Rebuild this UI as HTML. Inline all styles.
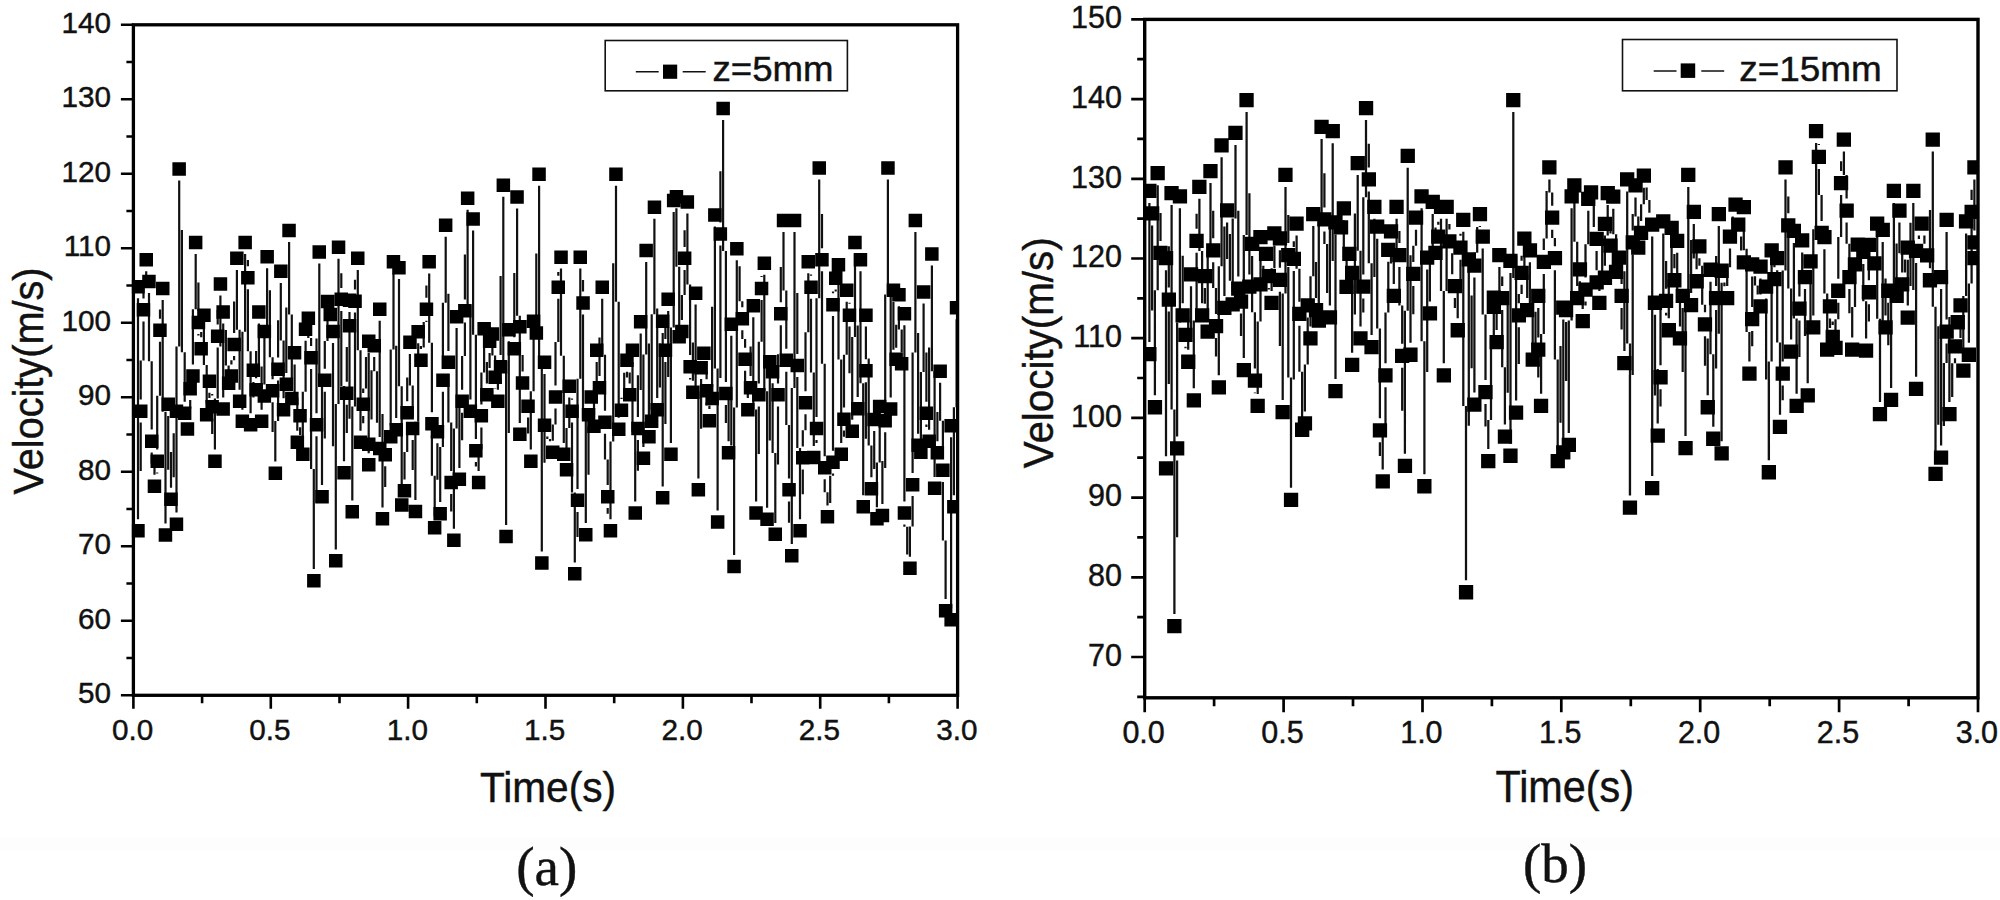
<!DOCTYPE html>
<html><head><meta charset="utf-8"><title>Velocity vs time</title>
<style>html,body{margin:0;padding:0;background:#fff}svg{display:block}text{stroke:#111;stroke-width:0.45px}</style></head>
<body>
<svg width="2000" height="900" viewBox="0 0 2000 900" font-family='"Liberation Sans", Arial, Helvetica, sans-serif' fill="#111">
<rect width="2000" height="900" fill="#fff"/>
<rect x="0" y="837" width="2000" height="14" fill="#fdfdfd"/>
<g id="plot-a">
<path d="M138 298.3V519.3M138 470.9V519.3M140.7 422.6V470.9M140.7 360.5V399.6M143.5 321.4V360.5M143.5 284.9V298.4M146.2 271.3V284.9M149 293V361.3M151.7 361.3V429.6M151.7 452.6V463.6M154.5 463.6V474.6M154.5 473.6V474.7M157.2 472.5V473.6M157.2 395.7V449.6M160 341.8V395.7M160 309.4V318.8M162.7 300V309.4M162.7 300V411.8M165.5 411.8V523.5M165.5 469.7V523.5M168.2 415.9V469.7M168.2 415.9V451.9M171 451.9V487.8M171 477.2V487.8M173.7 433.2V477.2M176.5 422.6V433.2M176.5 422.6V512.6M176.5 346.6V512.6M179.2 180.6V346.6M179.2 180.6V230.1M181.9 230.1V352.2M184.7 352.2V401.7M187.4 408.8V417.5M190.2 400.1V408.8M192.9 309.2V364.5M195.7 253.9V309.2M195.7 253.9V282.4M198.4 282.4V311M198.4 333.9V335.6M201.2 335.6V337.3M201.2 331.9V337.2M203.9 326.6V331.9M203.9 326.6V365M206.7 365V403.4M206.7 398.1V403.4M209.4 392.8V398.1M209.4 392.7V394.1M212.2 394.1V395.5M212.2 418.4V434M214.9 434V449.6M214.9 398.6V449.6M217.7 347.6V398.6M217.7 310.1V324.6M220.4 295.5V310.1M220.4 295.5V346.5M223.2 346.5V397.5M223.2 323.5V397.5M223.2 323.5V329.9M225.9 329.9V365.5M228.6 365.5V371.9M231.4 360.2V364.5M234.1 356V360.2M234.1 301.4V333M236.9 269.9V301.4M236.9 269.9V329.8M239.6 329.8V389.7M242.4 331.8V409.7M245.1 253.9V331.8M245.1 253.9V260.1M247.9 260.1V266.2M247.9 289.2V351.2M250.6 351.2V413.3M250.6 397.6V413.3M253.4 381.9V397.6M256.1 350.9V378.2M258.9 323.5V350.9M258.9 323.5V366.6M261.6 366.6V409.7M261.6 376.4V409.7M264.4 343V376.4M264.4 343V384.5M264.4 326.4V384.5M267.1 268.2V326.4M267.1 268.2V290.2M269.9 290.2V357.2M272.6 357.2V379.2M272.6 402.2V431.9M275.3 431.9V461.6M275.3 421.1V461.6M278.1 380.6V421.1M278.1 320.2V357.6M280.8 282.9V320.2M280.8 282.9V340.5M283.6 340.5V398.1M283.6 397V398.2M286.3 395.8V397M286.3 307.4V372.9M289.1 241.9V307.4M289.1 241.9V314.4M291.8 314.4V387M291.8 375.7V387M294.6 364.4V375.7M294.6 364.4V397.5M297.3 397.5V430.7M297.3 429V430.8M300.1 427.3V429M300.1 427.4V435.1M302.8 435.1V442.9M302.8 391.8V442.9M305.6 340.7V391.8M308.3 329.8V338M311.1 338V346.1M311.1 369.1V469.1M313.8 469.1V569.1M313.8 502.7V569.1M316.5 436.3V502.7M316.5 338.4V413.3M319.3 263.4V338.4M319.3 263.4V374.2M322 374.2V485.1M322 438.4V485.1M324.8 391.7V438.4M324.8 340.9V368.7M327.5 313V340.9M333 343V446.2M335.8 446.2V549.4M335.8 404V549.4M338.5 258.7V404M338.5 258.7V273.3M341.3 273.3V287.9M341.3 310.9V386M344 386V461.2M344 433V461.2M346.8 404.8V433M346.8 346.9V381.8M349.5 311.9V346.9M349.5 311.9V314.1M349.5 337.1V418.8M352.3 418.8V500.4M352.3 406.5V500.4M355 312.6V406.5M355 279.8V289.6M357.8 269.9V279.8M357.8 269.9V350.3M360.5 350.3V430.7M360.5 423.3V430.7M363.2 415.9V423.3M363.2 388.6V392.9M366 357.1V388.6M368.7 352.9V357.1M368.7 352.9V453.2M368.7 419.6V432.8M371.5 370.3V419.6M374.2 357.1V370.3M374.2 357.1V371.3M377 371.3V422.8M379.7 422.8V437M379.7 320.8V437M379.7 320.8V414.1M382.5 414.1V507.4M382.5 486.9V507.4M385.2 466.3V486.9M390.7 349.4V425.4M393.5 273.4V349.4M393.5 273.4V345.8M396.2 345.8V418.1M396.2 348.6V418.1M399 279.1V348.6M399 279.1V386.3M401.7 386.3V493.5M404.5 451.9V479.4M407.2 424.3V451.9M407.2 377.6V401.3M409.9 353.9V377.6M409.9 353.9V385.4M412.7 385.4V417M412.7 440V470M415.4 470V500M415.4 421.7V500M418.2 343.4V421.7M418.2 343.3V346.1M420.9 346.1V348.9M420.9 347.6V348.9M423.7 322.1V347.6M426.4 320.7V322.1M426.4 285.6V297.8M429.2 273.4V285.6M429.2 273.4V342.8M431.9 342.8V412.2M431.9 435.2V475.7M434.7 475.7V516.2M434.7 479.7V516.2M437.4 443.2V479.7M437.4 443.2V472.6M440.2 472.6V502.1M440.2 446.9V502.1M442.9 391.7V446.9M442.9 302.7V368.7M445.7 236.7V302.7M445.7 236.7V293.8M448.4 293.8V350.9M448.4 373.9V422.4M451.2 422.4V471M451.2 494V511.4M453.9 511.4V528.8M453.9 428.4V528.8M456.6 328.1V428.4M456.6 328.1V398M459.4 398V467.9M459.4 440.3V467.9M462.1 412.7V440.3M462.1 356V389.7M464.9 322.4V356M464.9 254.6V299.4M467.6 209.8V254.6M467.6 209.8V304.7M470.4 304.7V399.6M470.4 315V399.6M473.1 230.4V315M473.1 230.4V334.8M475.9 334.8V439.1M475.9 462.1V466.6M478.6 466.6V471M478.6 449.2V471M481.4 427.4V449.2M481.4 372.4V404.4M484.1 340.3V372.4M484.1 340.3V361.9M486.9 361.9V383.4M486.9 368.1V383.4M489.6 352.9V368.1M492.4 345.5V355.6M495.1 355.6V365.6M495.1 388.5V389.1M497.9 389.1V389.8M497.9 383.9V389.7M500.6 378.1V383.9M500.6 276V355.1M503.3 196.8V276M503.3 196.8V360.9M506.1 360.9V525M506.1 433.1V525M508.8 341.3V433.1M514.3 272.9V337.2M517.1 208.6V272.9M517.1 208.6V315.8M519.8 315.8V422.9M519.8 338.2V422.9M519.8 338.2V354.9M522.6 354.9V371.5M528.1 417.6V433.6M530.8 433.6V449.6M530.8 391.2V449.6M533.6 332.9V391.2M536.3 253.6V321.5M539.1 185.7V253.6M539.1 185.7V368.6M541.8 368.6V551.5M541.8 462.7V551.5M544.5 373.9V462.7M544.5 373.9V413.9M547.3 436.4V438.9M550 438.9V441.3M552.8 424.6V440.8M555.5 408.5V424.6M555.5 342.1V385.5M558.3 298.7V342.1M558.3 272.1V275.7M561 268.6V272.1M561 268.6V355.8M563.8 355.8V442.9M566.5 428V458.4M569.3 397.6V428M569.3 397.5V398.6M572 398.6V399.7M572 422.6V492.5M574.8 492.5V562.4M574.8 537.1V562.4M577.5 511.9V537.1M577.5 378.8V488.9M580.3 268.6V378.8M580.3 268.6V280.1M583 280.1V291.5M583 314.5V418.8M585.8 418.8V523.1M585.8 474.8V523.1M588.5 426.4V474.8M591.2 408.5V411.7M594 411.7V414.9M594 388.4V414.9M596.7 361.9V388.4M596.7 361.9V369M599.5 369V376.1M599.5 337.4V376.1M602.2 298.7V337.4M602.2 298.7V354.7M605 354.7V410.7M605 433.7V459.4M607.7 459.4V485.1M607.7 508.1V513.7M610.5 513.7V519.3M610.5 441.6V519.3M613.2 263.3V441.6M616 185.7V263.3M616 185.7V301.7M618.7 301.7V417.7M621.5 397.8V398.9M624.2 372.8V397.8M627 371.7V372.8M627 371.8V377.6M629.7 377.6V383.4M629.7 372.6V383.4M632.5 361.9V372.6M632.5 361.9V431.7M635.2 431.7V501.5M635.2 470.8V501.5M637.9 440V470.8M637.9 375.2V417M640.7 333.4V375.2M640.7 333.4V390.1M643.4 390.1V446.9M643.4 354.4V446.9M646.2 261.9V354.4M646.2 261.9V343.6M648.9 343.6V425.4M651.7 314.2V409.7M654.4 218.8V314.2M654.4 218.8V308.5M657.2 308.5V398.1M657.2 387.6V398.1M659.9 343.4V387.6M662.7 332.9V343.4M662.7 332.9V486.4M662.7 424.1V486.4M665.4 361.9V424.1M665.4 324.9V338.9M668.2 310.9V324.9M668.2 310.9V376.9M670.9 376.9V442.9M670.9 327.4V442.9M673.7 211.9V327.4M676.4 208.3V266.8M679.2 266.8V325.3M681.9 294.9V320M684.6 269.9V294.9M684.6 230.2V246.9M687.4 213.6V230.2M687.4 213.6V284.4M690.1 284.4V355.1M690.1 378V379.4M692.9 379.4V380.8M692.9 342.6V380.7M695.6 304.6V342.6M695.6 304.6V391.5M698.4 391.5V478.4M698.4 428.8V478.4M701.1 379.1V428.8M703.9 364.9V372M706.6 372V379.2M706.6 402.2V405.6M709.4 405.6V409.1M712.1 306.8V387M714.9 226.6V306.8M714.9 226.6V368.5M717.6 368.5V510.5M717.6 378V510.5M720.4 245.5V378M720.4 171.3V222.5M723.1 120.1V171.3M723.1 120.1V251M725.9 251V382M725.9 405V423.1M728.6 423.1V441.2M728.6 388.4V441.2M731.3 335.7V388.4M731.3 335.7V445.4M734.1 445.4V555M734.1 407.6V555M736.8 260.2V407.6M736.8 260.2V266.2M739.6 266.2V301.2M742.3 301.2V307.2M742.3 330.2V338.9M745.1 338.9V347.7M745.1 370.7V384.4M747.8 384.4V398.1M750.6 346.6V376.1M753.3 317.2V346.6M753.3 317.2V409.4M756.1 409.4V501.5M756.1 453.9V501.5M758.8 406.4V453.9M758.8 341.7V383.4M761.6 300V341.7M761.6 275.9V277.1M764.3 274.8V275.9M764.3 274.9V391.3M767.1 391.3V507.8M767.1 440.5V507.8M769.8 373.3V440.5M772.6 383.3V453.1M775.3 453.1V522.9M775.3 464.6V522.9M778 406.4V464.6M778 354.3V383.4M780.8 325.2V354.3M780.8 267.1V302.2M783.5 231.9V267.1M783.5 231.9V290.4M786.3 290.4V348.8M786.3 371.8V425.1M789 425.1V478.4M789 501.4V522.8M791.8 522.8V544.1M791.8 388V544.1M794.5 231.9V388M794.5 231.9V292.9M797.3 292.9V354M797.3 377V448.1M800 448.1V519.3M800 494.3V519.3M802.8 469.4V494.3M802.8 430.3V446.4M805.5 414.2V430.3M805.5 332.3V391.2M808.3 273.4V332.3M808.3 273.3V274.5M811 274.5V275.8M811 298.7V372.4M813.8 372.4V446M813.8 443V446.1M816.5 439.9V443M816.5 298.2V417M819.2 179.4V298.2M819.2 179.4V213.9M822 213.9V248.3M822 271.3V363.8M824.7 363.8V456.3M824.7 479.3V492.3M827.5 492.3V505.3M827.5 503.1V505.4M830.2 475.8V503.1M833 473.6V475.8M833 316.1V450.7M833 291.4V293.2M835.7 289.5V291.4M838.5 276.2V359.5M841.2 359.5V442.9M841.2 436.8V442.9M844 430.6V436.8M844 354.8V407.6M846.7 301.9V354.8M846.7 301.8V302.8M849.5 302.8V303.7M849.5 326.6V373.2M852.2 373.2V419.8M852.2 336.9V419.8M855 253.9V336.9M855 253.9V325.5M857.7 325.5V397.1M857.7 334.2V397.1M860.5 271.3V334.2M860.5 271.3V383.2M863.2 383.2V495.2M863.2 438.8V495.2M865.9 382.3V438.8M865.9 326.6V359.3M865.9 326.6V358.5M868.7 358.5V445.4M871.4 445.4V477.3M871.4 454.1V477.3M874.2 431V454.1M874.2 431V469.1M876.9 469.1V507.2M876.9 462.6V507.2M879.7 418V462.6M879.7 418V461M882.4 461V504M882.4 468.1V504M885.2 432.3V468.1M885.2 294.4V409.3M887.9 179.4V294.4M887.9 179.4V288.4M890.7 288.4V397.5M890.7 349.7V397.5M893.4 301.9V349.7M893.4 301.9V324.8M896.2 324.8V347.7M896.2 327V347.7M898.9 306.3V327M898.9 306.3V329.4M901.7 329.4V352.4M901.7 338.8V352.4M904.4 325.2V338.8M904.4 325.2V501.5M904.4 524.4V526.8M907.2 526.8V554.4M909.9 554.4V556.8M909.9 526.4V556.7M912.6 496.1V526.4M912.6 352.5V473.1M915.4 231.9V352.5M915.4 231.9V332.9M918.1 332.9V433.8M920.9 372.1V440.8M923.6 303.5V372.1M923.6 303.5V352.6M926.4 352.6V401.7M926.4 424.6V427.1M929.1 427.1V429.7M929.1 347.6V429.6M931.9 265.5V347.6M931.9 265.5V371.2M934.6 371.2V476.9M934.6 470.5V476.9M937.4 464.2V470.5M937.4 411.9V441.2M940.1 382.7V411.9M940.1 382.7V420.8M942.9 420.8V458.9M942.9 481.9V540.5M945.6 540.5V599.1M951.1 437.3V608.2M951.1 437.3V466.2M953.9 466.2V495.2M953.9 407.2V495.2M956.6 319.3V407.2" fill="none" stroke="#111" stroke-width="2.2"/>
<path d="M131.9 280.1h12.8v13.5h-12.8zM131.9 524h12.8v13.5h-12.8zM134 404.4h13.5v13.5h-13.5zM136.7 303.1h13.5v13.5h-13.5zM139.5 253.1h13.5v13.5h-13.5zM142.2 274.8h13.5v13.5h-13.5zM145 434.4h13.5v13.5h-13.5zM147.7 479.4h13.5v13.5h-13.5zM150.5 454.4h13.5v13.5h-13.5zM153.2 323.6h13.5v13.5h-13.5zM156 281.8h13.5v13.5h-13.5zM158.7 528.2h13.5v13.5h-13.5zM161.5 397.6h13.5v13.5h-13.5zM164.2 492.6h13.5v13.5h-13.5zM169.7 404.4h13.5v13.5h-13.5zM169.7 517.4h13.5v13.5h-13.5zM172.4 162.3h13.5v13.5h-13.5zM177.9 406.4h13.5v13.5h-13.5zM180.7 422.2h13.5v13.5h-13.5zM183.4 381.9h13.5v13.5h-13.5zM186.2 369.2h13.5v13.5h-13.5zM188.9 235.7h13.5v13.5h-13.5zM191.7 315.8h13.5v13.5h-13.5zM194.4 341.9h13.5v13.5h-13.5zM197.2 308.4h13.5v13.5h-13.5zM199.9 408.1h13.5v13.5h-13.5zM202.7 374.6h13.5v13.5h-13.5zM205.4 400.1h13.5v13.5h-13.5zM208.2 454.4h13.5v13.5h-13.5zM210.9 329.4h13.5v13.5h-13.5zM213.7 277.2h13.5v13.5h-13.5zM216.4 402.2h13.5v13.5h-13.5zM216.4 305.2h13.5v13.5h-13.5zM221.9 376.6h13.5v13.5h-13.5zM224.6 369.2h13.5v13.5h-13.5zM227.4 337.8h13.5v13.5h-13.5zM230.1 251.6h13.5v13.5h-13.5zM232.9 394.4h13.5v13.5h-13.5zM235.6 414.4h13.5v13.5h-13.5zM238.4 235.7h13.5v13.5h-13.5zM241.1 270.9h13.5v13.5h-13.5zM243.9 418.1h13.5v13.5h-13.5zM246.6 363.6h13.5v13.5h-13.5zM249.4 382.9h13.5v13.5h-13.5zM252.1 305.2h13.5v13.5h-13.5zM254.9 414.4h13.5v13.5h-13.5zM257.6 324.8h13.5v13.5h-13.5zM257.6 389.2h13.5v13.5h-13.5zM260.4 249.9h13.5v13.5h-13.5zM265.8 383.9h13.5v13.5h-13.5zM268.6 466.4h13.5v13.5h-13.5zM271.3 362.4h13.5v13.5h-13.5zM274.1 264.6h13.5v13.5h-13.5zM276.8 402.9h13.5v13.5h-13.5zM279.6 377.6h13.5v13.5h-13.5zM282.3 223.7h13.5v13.5h-13.5zM285.1 391.8h13.5v13.5h-13.5zM287.8 346.1h13.5v13.5h-13.5zM290.6 435.4h13.5v13.5h-13.5zM293.3 409.1h13.5v13.5h-13.5zM296.1 447.6h13.5v13.5h-13.5zM298.8 322.4h13.5v13.5h-13.5zM301.6 311.6h13.5v13.5h-13.5zM304.3 350.9h13.5v13.5h-13.5zM307.1 573.9h13.5v13.5h-13.5zM309.8 418.1h13.5v13.5h-13.5zM312.5 245.2h13.5v13.5h-13.5zM315.3 489.9h13.5v13.5h-13.5zM318 373.4h13.5v13.5h-13.5zM320.8 294.8h13.5v13.5h-13.5zM323.5 307.8h13.5v13.5h-13.5zM326.3 324.8h13.5v13.5h-13.5zM329 554.1h13.5v13.5h-13.5zM331.8 240.4h13.5v13.5h-13.5zM334.5 292.6h13.5v13.5h-13.5zM337.3 465.9h13.5v13.5h-13.5zM340 386.6h13.5v13.5h-13.5zM342.8 293.6h13.5v13.5h-13.5zM342.8 318.9h13.5v13.5h-13.5zM345.5 505.1h13.5v13.5h-13.5zM348.3 294.4h13.5v13.5h-13.5zM351 251.6h13.5v13.5h-13.5zM353.8 435.4h13.5v13.5h-13.5zM356.5 397.6h13.5v13.5h-13.5zM362 334.6h13.5v13.5h-13.5zM362 457.9h13.5v13.5h-13.5zM362 437.6h13.5v13.5h-13.5zM367.5 338.9h13.5v13.5h-13.5zM373 441.8h13.5v13.5h-13.5zM373 302.6h13.5v13.5h-13.5zM375.7 512.1h13.5v13.5h-13.5zM378.5 448.1h13.5v13.5h-13.5zM384 430.1h13.5v13.5h-13.5zM386.7 255.1h13.5v13.5h-13.5zM389.5 422.9h13.5v13.5h-13.5zM392.2 260.9h13.5v13.5h-13.5zM395 498.2h13.5v13.5h-13.5zM397.7 484.1h13.5v13.5h-13.5zM400.4 406.1h13.5v13.5h-13.5zM403.2 335.6h13.5v13.5h-13.5zM405.9 421.8h13.5v13.5h-13.5zM408.7 504.8h13.5v13.5h-13.5zM411.4 325.1h13.5v13.5h-13.5zM414.2 353.6h13.5v13.5h-13.5zM419.7 302.6h13.5v13.5h-13.5zM422.4 255.1h13.5v13.5h-13.5zM425.2 416.9h13.5v13.5h-13.5zM427.9 521h13.5v13.5h-13.5zM430.7 424.9h13.5v13.5h-13.5zM433.4 506.9h13.5v13.5h-13.5zM436.2 373.4h13.5v13.5h-13.5zM438.9 218.4h13.5v13.5h-13.5zM441.7 355.6h13.5v13.5h-13.5zM444.4 475.8h13.5v13.5h-13.5zM447.1 533.5h13.5v13.5h-13.5zM449.9 309.9h13.5v13.5h-13.5zM452.6 472.6h13.5v13.5h-13.5zM455.4 394.4h13.5v13.5h-13.5zM458.1 304.1h13.5v13.5h-13.5zM460.9 191.6h13.5v13.5h-13.5zM463.6 404.4h13.5v13.5h-13.5zM466.4 212.2h13.5v13.5h-13.5zM469.1 443.9h13.5v13.5h-13.5zM471.9 475.8h13.5v13.5h-13.5zM474.6 409.1h13.5v13.5h-13.5zM477.4 322.1h13.5v13.5h-13.5zM480.1 388.1h13.5v13.5h-13.5zM482.9 334.6h13.5v13.5h-13.5zM485.6 327.2h13.5v13.5h-13.5zM488.4 370.4h13.5v13.5h-13.5zM491.1 394.4h13.5v13.5h-13.5zM493.8 359.9h13.5v13.5h-13.5zM496.6 178.6h13.5v13.5h-13.5zM499.3 529.8h13.5v13.5h-13.5zM502.1 323.1h13.5v13.5h-13.5zM507.6 341.9h13.5v13.5h-13.5zM510.3 190.3h13.5v13.5h-13.5zM513.1 427.6h13.5v13.5h-13.5zM513.1 319.9h13.5v13.5h-13.5zM515.8 376.2h13.5v13.5h-13.5zM521.3 399.4h13.5v13.5h-13.5zM524.1 454.4h13.5v13.5h-13.5zM526.8 314.6h13.5v13.5h-13.5zM529.6 326.2h13.5v13.5h-13.5zM532.3 167.4h13.5v13.5h-13.5zM535.1 556.2h13.5v13.5h-13.5zM537.8 355.6h13.5v13.5h-13.5zM537.8 418.6h13.5v13.5h-13.5zM546 445.6h13.5v13.5h-13.5zM548.8 390.2h13.5v13.5h-13.5zM551.5 280.4h13.5v13.5h-13.5zM554.3 250.4h13.5v13.5h-13.5zM557 447.6h13.5v13.5h-13.5zM559.8 463.1h13.5v13.5h-13.5zM562.5 379.4h13.5v13.5h-13.5zM565.3 404.4h13.5v13.5h-13.5zM568 567.1h13.5v13.5h-13.5zM570.8 493.6h13.5v13.5h-13.5zM573.5 250.4h13.5v13.5h-13.5zM576.3 296.2h13.5v13.5h-13.5zM579 527.9h13.5v13.5h-13.5zM581.8 408.1h13.5v13.5h-13.5zM584.5 390.2h13.5v13.5h-13.5zM587.2 419.6h13.5v13.5h-13.5zM590 343.6h13.5v13.5h-13.5zM592.7 380.9h13.5v13.5h-13.5zM595.5 280.4h13.5v13.5h-13.5zM598.2 415.4h13.5v13.5h-13.5zM601 489.9h13.5v13.5h-13.5zM603.7 524h13.5v13.5h-13.5zM609.2 167.4h13.5v13.5h-13.5zM612 422.4h13.5v13.5h-13.5zM614.7 403.6h13.5v13.5h-13.5zM620.2 353.6h13.5v13.5h-13.5zM623 388.1h13.5v13.5h-13.5zM625.7 343.6h13.5v13.5h-13.5zM628.5 506.2h13.5v13.5h-13.5zM631.2 421.8h13.5v13.5h-13.5zM633.9 315.1h13.5v13.5h-13.5zM636.7 451.6h13.5v13.5h-13.5zM639.4 243.7h13.5v13.5h-13.5zM642.2 430.1h13.5v13.5h-13.5zM644.9 414.4h13.5v13.5h-13.5zM647.7 200.6h13.5v13.5h-13.5zM650.4 402.9h13.5v13.5h-13.5zM655.9 314.6h13.5v13.5h-13.5zM655.9 491.1h13.5v13.5h-13.5zM658.7 343.6h13.5v13.5h-13.5zM661.4 292.6h13.5v13.5h-13.5zM664.2 447.6h13.5v13.5h-13.5zM666.9 193.7h13.5v13.5h-13.5zM669.7 190.1h13.5v13.5h-13.5zM672.4 330.1h13.5v13.5h-13.5zM675.1 324.8h13.5v13.5h-13.5zM677.9 251.6h13.5v13.5h-13.5zM680.6 195.3h13.5v13.5h-13.5zM683.4 359.9h13.5v13.5h-13.5zM686.1 385.4h13.5v13.5h-13.5zM688.9 286.4h13.5v13.5h-13.5zM691.6 483.1h13.5v13.5h-13.5zM694.4 360.9h13.5v13.5h-13.5zM697.1 346.6h13.5v13.5h-13.5zM699.9 383.9h13.5v13.5h-13.5zM702.6 413.9h13.5v13.5h-13.5zM705.4 391.8h13.5v13.5h-13.5zM708.1 208.3h13.5v13.5h-13.5zM710.9 515.2h13.5v13.5h-13.5zM713.6 227.2h13.5v13.5h-13.5zM716.4 101.8h13.5v13.5h-13.5zM719.1 386.8h13.5v13.5h-13.5zM721.8 445.9h13.5v13.5h-13.5zM724.6 317.4h13.5v13.5h-13.5zM727.3 559.8h13.5v13.5h-13.5zM730.1 241.9h13.5v13.5h-13.5zM735.6 311.9h13.5v13.5h-13.5zM738.3 352.4h13.5v13.5h-13.5zM741.1 402.9h13.5v13.5h-13.5zM743.8 380.9h13.5v13.5h-13.5zM746.6 298.9h13.5v13.5h-13.5zM749.3 506.2h13.5v13.5h-13.5zM752.1 388.1h13.5v13.5h-13.5zM754.8 281.8h13.5v13.5h-13.5zM757.6 256.6h13.5v13.5h-13.5zM760.3 512.5h13.5v13.5h-13.5zM763.1 355.1h13.5v13.5h-13.5zM765.8 365.1h13.5v13.5h-13.5zM768.5 527.6h13.5v13.5h-13.5zM771.3 388.1h13.5v13.5h-13.5zM774 306.9h13.5v13.5h-13.5zM776.8 213.7h13.5v13.5h-13.5zM779.5 353.6h13.5v13.5h-13.5zM782.3 483.1h13.5v13.5h-13.5zM785 548.9h13.5v13.5h-13.5zM787.8 213.7h13.5v13.5h-13.5zM790.5 358.8h13.5v13.5h-13.5zM793.3 524h13.5v13.5h-13.5zM796 451.1h13.5v13.5h-13.5zM798.8 395.9h13.5v13.5h-13.5zM801.5 255.1h13.5v13.5h-13.5zM804.3 280.4h13.5v13.5h-13.5zM807 450.8h13.5v13.5h-13.5zM809.8 421.8h13.5v13.5h-13.5zM812.5 161.2h13.5v13.5h-13.5zM815.2 253.1h13.5v13.5h-13.5zM818 461.1h13.5v13.5h-13.5zM820.7 510h13.5v13.5h-13.5zM826.2 455.4h13.5v13.5h-13.5zM826.2 297.9h13.5v13.5h-13.5zM829 271.4h13.5v13.5h-13.5zM831.7 257.9h13.5v13.5h-13.5zM834.5 447.6h13.5v13.5h-13.5zM837.2 412.4h13.5v13.5h-13.5zM840 283.6h13.5v13.5h-13.5zM842.7 308.4h13.5v13.5h-13.5zM845.5 424.6h13.5v13.5h-13.5zM848.2 235.7h13.5v13.5h-13.5zM851 401.9h13.5v13.5h-13.5zM853.7 253.1h13.5v13.5h-13.5zM856.5 499.9h13.5v13.5h-13.5zM859.2 364.1h13.5v13.5h-13.5zM859.2 308.4h13.5v13.5h-13.5zM864.7 482.1h13.5v13.5h-13.5zM867.4 412.8h13.5v13.5h-13.5zM870.2 512h13.5v13.5h-13.5zM872.9 399.8h13.5v13.5h-13.5zM875.7 508.8h13.5v13.5h-13.5zM878.4 414.1h13.5v13.5h-13.5zM881.2 161.2h13.5v13.5h-13.5zM883.9 402.2h13.5v13.5h-13.5zM886.7 283.6h13.5v13.5h-13.5zM889.4 352.4h13.5v13.5h-13.5zM892.2 288.1h13.5v13.5h-13.5zM894.9 357.1h13.5v13.5h-13.5zM897.7 306.9h13.5v13.5h-13.5zM897.7 506.2h13.5v13.5h-13.5zM903.2 561.5h13.5v13.5h-13.5zM905.9 477.9h13.5v13.5h-13.5zM908.6 213.7h13.5v13.5h-13.5zM911.4 438.6h13.5v13.5h-13.5zM914.1 445.6h13.5v13.5h-13.5zM916.9 285.2h13.5v13.5h-13.5zM919.6 406.4h13.5v13.5h-13.5zM922.4 434.4h13.5v13.5h-13.5zM925.1 247.2h13.5v13.5h-13.5zM927.9 481.6h13.5v13.5h-13.5zM930.6 445.9h13.5v13.5h-13.5zM933.4 364.4h13.5v13.5h-13.5zM936.1 463.6h13.5v13.5h-13.5zM938.9 603.9h13.5v13.5h-13.5zM944.4 613h13.2v13.5h-13.2zM944.4 419.1h13.2v13.5h-13.2zM947.1 499.9h10.5v13.5h-10.5zM949.8 301.1h7.8v13.5h-7.8z" fill="#000"/>
<rect x="133.4" y="24.8" width="824.2" height="670.5" fill="none" stroke="#000" stroke-width="3.3"/>
<text x="111" y="32.9" font-size="29.7" text-anchor="end">140</text>
<text x="111" y="107.4" font-size="29.7" text-anchor="end">130</text>
<text x="111" y="181.9" font-size="29.7" text-anchor="end">120</text>
<text x="111" y="256.4" font-size="29.7" text-anchor="end">110</text>
<text x="111" y="330.9" font-size="29.7" text-anchor="end">100</text>
<text x="111" y="405.4" font-size="29.7" text-anchor="end">90</text>
<text x="111" y="479.9" font-size="29.7" text-anchor="end">80</text>
<text x="111" y="554.4" font-size="29.7" text-anchor="end">70</text>
<text x="111" y="628.9" font-size="29.7" text-anchor="end">60</text>
<text x="111" y="703.4" font-size="29.7" text-anchor="end">50</text>
<text x="132.6" y="739.8" font-size="29.7" text-anchor="middle">0.0</text>
<text x="270" y="739.8" font-size="29.7" text-anchor="middle">0.5</text>
<text x="407.3" y="739.8" font-size="29.7" text-anchor="middle">1.0</text>
<text x="544.7" y="739.8" font-size="29.7" text-anchor="middle">1.5</text>
<text x="682.1" y="739.8" font-size="29.7" text-anchor="middle">2.0</text>
<text x="819.4" y="739.8" font-size="29.7" text-anchor="middle">2.5</text>
<text x="956.8" y="739.8" font-size="29.7" text-anchor="middle">3.0</text>
<path d="M133.4 24.8h-12.5M133.4 62h-7M133.4 99.2h-12.5M133.4 136.5h-7M133.4 173.8h-12.5M133.4 211h-7M133.4 248.2h-12.5M133.4 285.5h-7M133.4 322.8h-12.5M133.4 360h-7M133.4 397.2h-12.5M133.4 434.5h-7M133.4 471.8h-12.5M133.4 509h-7M133.4 546.2h-12.5M133.4 583.5h-7M133.4 620.8h-12.5M133.4 658h-7M133.4 695.2h-12.5M133.4 695.2v13.5M202.1 695.2v8M270.8 695.2v13.5M339.5 695.2v8M408.1 695.2v13.5M476.8 695.2v8M545.5 695.2v13.5M614.2 695.2v8M682.9 695.2v13.5M751.5 695.2v8M820.2 695.2v13.5M888.9 695.2v8M957.6 695.2v13.5" fill="none" stroke="#000" stroke-width="2.6"/>
<text x="548" y="801.5" font-size="42.5" text-anchor="middle" textLength="136" lengthAdjust="spacingAndGlyphs">Time(s)</text>
<text transform="translate(42.8 381) rotate(-90)" font-size="42" text-anchor="middle" textLength="227" lengthAdjust="spacingAndGlyphs">Velocity(m/s)</text>
<rect x="605.2" y="40.5" width="242.2" height="50.3" fill="#fff" stroke="#111" stroke-width="1.6"/>
<path d="M635.8 71.8H658.7M682.7 71.8H705.7" stroke="#111" stroke-width="1.6" fill="none"/>
<rect x="663" y="64.6" width="14.2" height="14.2" fill="#000"/>
<text x="712.5" y="81" font-size="35.5" textLength="121" lengthAdjust="spacingAndGlyphs">z=5mm</text>
<text x="546.7" y="884.7" font-size="55" text-anchor="middle" font-family='"Liberation Serif", "Times New Roman", serif'>(a)</text>
</g>
<g id="plot-b">
<path d="M1149.4 203V342.1M1149.4 283.8V342.1M1152.1 225.5V283.8M1152.1 225.5V310.4M1154.9 310.4V395.2M1154.9 290.2V395.2M1157.7 185.2V290.2M1157.7 185.2V213.1M1160.5 213.1V241M1166 270.2V456.3M1166 383.9V456.3M1168.8 311.5V383.9M1168.8 246.3V287.5M1171.6 205.1V246.3M1171.6 205.1V409.6M1174.4 409.6V614.1M1174.4 537.2V614.1M1177.1 460.4V537.2M1177.1 322.4V436.4M1179.9 208.3V322.4M1179.9 208.3V255.8M1182.7 255.8V303.3M1185.5 346.7V348.2M1188.2 348.2V349.8M1188.2 318V349.7M1191 286.3V318M1191 286.3V337.3M1193.8 337.3V388.3M1193.8 320.6V388.3M1196.6 252.8V320.6M1196.6 213.8V228.8M1199.4 198.8V213.8M1199.4 198.8V251.1M1202.1 251.1V303.3M1202.1 295.6V303.3M1204.9 288V295.6M1204.9 288V303.8M1207.7 303.8V319.6M1207.7 251.4V319.6M1210.5 183.1V251.4M1210.5 183.1V210.7M1213.2 210.7V238.3M1213.2 262.3V288.1M1216 288.1V314M1216 338V356.6M1218.8 356.6V375.3M1218.8 266.3V375.3M1221.6 157.3V266.3M1221.6 157.3V226.6M1224.4 226.6V295.9M1224.4 259.1V295.9M1227.1 222.4V259.1M1227.1 222.4V233.9M1229.9 233.9V280.8M1232.7 280.8V292.3M1232.7 218.6V292.3M1235.5 144.9V218.6M1235.5 144.9V210.8M1238.3 210.8V276.6M1241 313.6V335.9M1243.8 335.9V358.1M1243.8 235.1V358.1M1246.6 112.1V235.1M1246.6 112.1V193.3M1249.4 193.3V274.5M1249.4 265.2V274.5M1252.1 256V265.2M1252.1 256V312.3M1254.9 312.3V368.6M1254.9 392.5V393.2M1257.7 393.2V393.9M1257.7 321.5V393.8M1260.5 249.2V321.5M1260.5 249.2V272.4M1263.3 265.8V272.6M1268.8 287.9V289.4M1271.6 289.4V291M1271.6 268.2V290.9M1274.4 245.5V268.2M1279.9 250.3V267.8M1279.9 291.8V346M1282.7 346V400.1M1282.7 293.5V400.1M1285.5 186.9V293.5M1285.5 186.9V215M1288.3 215V243.1M1288.3 267.1V377.4M1291 377.4V487.8M1291 379.4V487.8M1293.8 270.9V379.4M1293.8 241.2V246.9M1296.6 235.6V241.2M1296.6 235.6V268.7M1299.4 268.7V301.8M1299.4 325.8V371.8M1302.1 371.8V417.7M1304.9 364.4V411.4M1307.7 317.4V364.4M1307.7 317.4V321.9M1310.5 321.9V326.4M1310.5 276.2V326.4M1313.3 226.1V276.2M1313.3 226.1V262.1M1316 262.1V298M1318.8 223.8V308.5M1321.6 139V223.8M1321.6 139V173.2M1324.4 173.2V207.4M1324.4 231.4V243.9M1327.1 243.9V292.9M1329.9 292.9V305.4M1329.9 224.3V305.4M1332.7 143.2V224.3M1332.7 143.2V261.1M1335.5 261.1V379.1M1335.5 234.5V379.1M1343.8 220.3V247.6M1346.6 247.6V274.9M1346.6 270.4V274.9M1349.4 266V270.4M1352.1 284.8V352.8M1352.1 314.4V352.8M1354.9 213.5V314.4M1357.7 175.1V213.5M1357.7 175.1V250.8M1360.5 250.8V326.4M1360.5 312.4V326.4M1363.3 298.5V312.4M1363.3 197.3V274.5M1366 120.1V197.3M1366 120.1V143.8M1368.8 143.8V167.5M1368.8 191.5V263.2M1371.6 263.2V335M1371.6 276.9V335M1374.4 218.8V276.9M1377.2 238.7V328.5M1379.9 328.5V418.3M1379.9 442.3V455.9M1382.7 455.9V469.4M1382.7 428.4V469.4M1385.5 387.3V428.4M1385.5 312.6V363.3M1388.3 261.8V312.6M1391 243.4V263.6M1393.8 263.6V283.9M1393.8 251.3V283.9M1396.6 218.8V251.3M1396.6 218.8V230.9M1399.4 230.9V243.1M1399.4 267.1V305.4M1402.2 305.4V343.8M1402.2 367.8V410.8M1404.9 410.8V453.8M1404.9 310.8V453.8M1407.7 167.8V310.8M1407.7 167.8V255.2M1410.5 255.2V342.7M1410.5 314.3V342.7M1413.3 285.9V314.3M1413.3 245.8V261.9M1416 229.7V245.8M1421.6 208.3V341.2M1424.4 341.2V474.2M1424.4 371.9V474.2M1427.2 269.6V371.9M1427.2 269.6V285.5M1429.9 285.5V301.4M1429.9 257.7V301.4M1432.7 214V257.7M1432.7 214V227.5M1435.5 227.5V241M1438.3 221.7V224.7M1441 218.7V221.7M1441 218.8V291.1M1443.8 291.1V363.3M1443.8 291.1V363.3M1446.6 218.8V291.1M1446.6 218.8V224.1M1449.4 224.1V229.4M1452.2 253.3V274.2M1454.9 298.1V308.1M1457.7 308.1V318.2M1457.7 288.9V318.2M1460.5 259.7V288.9M1460.5 233.8V235.8M1463.3 231.7V233.8M1463.3 231.8V406M1466 406V580.2M1466 425.8V580.2M1468.8 271.3V425.8M1468.8 271.3V295.6M1471.6 295.6V368.2M1474.4 368.2V392.5M1474.4 277.6V392.5M1474.4 252.7V253.7M1477.2 227V252.7M1479.9 226V227M1482.7 248.6V314.4M1485.5 314.4V380.1M1485.5 404.1V426.6M1488.3 426.6V449M1488.3 420.1V449M1491 338.5V420.1M1493.8 309.6V338.5M1493.8 318.9V324.5M1496.6 324.5V330.1M1496.6 298.6V330.1M1499.4 267.1V298.6M1499.4 267.1V276.6M1502.2 276.6V286M1502.2 310V367.3M1504.9 367.3V424.6M1504.9 392.7V424.6M1507.7 304.9V392.7M1510.5 273V304.9M1510.5 273V443.7M1510.5 277.9V443.7M1513.3 112.1V277.9M1513.3 112.1V256.3M1516.1 256.3V400.5M1516.1 363.9V400.5M1518.8 327.3V363.9M1518.8 294.1V303.3M1521.6 284.8V294.1M1521.6 255.8V260.8M1524.4 250.7V255.8M1524.4 250.7V274.4M1527.2 274.4V298M1527.2 280.1V298M1529.9 262.3V280.1M1529.9 262.3V305M1532.7 305V347.6M1532.7 343.7V347.6M1535.5 311.8V343.7M1538.3 307.9V311.8M1538.3 307.9V337.5M1538.3 361.5V377.6M1541.1 377.6V393.8M1541.1 333.9V393.8M1543.8 274V333.9M1543.8 238.4V250M1546.6 191.1V238.4M1549.4 179.5V191.1M1549.4 179.5V192.6M1552.2 192.6V205.7M1552.2 229.7V237.9M1554.9 237.9V246.2M1554.9 270.2V359.6M1557.7 359.6V449.1M1557.7 422.7V449.1M1560.5 345.9V422.7M1563.3 319.5V345.9M1563.3 319.5V440.3M1563.3 381.1V440.3M1566.1 322V381.1M1566.1 322V377.4M1568.8 377.4V432.9M1568.8 320.6V432.9M1571.6 208.3V320.6M1574.4 197.4V241.7M1577.2 241.7V286M1577.2 283.6V286.1M1579.9 281.2V283.6M1579.9 281.3V295.2M1582.7 295.2V309.1M1582.7 305.4V309.1M1585.5 301.6V305.4M1585.5 244.2V277.6M1588.3 210.8V244.2M1593.8 204.4V227M1596.6 250.9V270.3M1599.4 283.2V290.9M1602.2 243.7V283.2M1604.9 236V243.7M1604.9 236V265.7M1604.9 235.4V265.7M1607.7 205.1V235.4M1607.7 205.1V219.3M1610.5 219.3V233.6M1610.5 221.1V233.6M1613.3 208.7V221.1M1613.3 208.7V234.2M1616.1 234.2V259.8M1618.8 269.6V276.8M1621.6 276.8V283.9M1621.6 307.9V329.5M1624.4 329.5V351.1M1624.4 271.3V351.1M1627.2 191.5V271.3M1627.2 191.5V343.5M1630 343.5V495.5M1629.9 375V495.5M1632.7 254.5V375M1632.7 213.9V230.5M1635.5 197.4V213.9M1635.5 197.4V216.6M1638.3 216.6V235.7M1641.1 204.3V221M1643.8 187.7V204.3M1646.6 187.5V200.1M1649.4 200.1V212.8M1652.2 236.6V476M1652.2 395.4V476M1655 314.7V395.4M1655 314.7V369.1M1657.7 369.1V423.6M1657.7 406.4V423.6M1660.5 389.2V406.4M1660.5 299.4V365.2M1663.3 233.5V299.4M1663.3 233.5V261.1M1666.1 261.1V288.8M1666.1 312.7V315.5M1668.8 315.5V318.3M1668.8 279V318.2M1671.6 239.8V279M1671.6 239.8V254M1674.4 254V268.2M1674.4 260.5V268.2M1677.2 252.8V260.5M1677.2 252.8V289.6M1680 289.6V326.4M1680 317.1V326.4M1682.7 307.9V317.1M1682.7 307.9V372M1685.5 372V436.1M1685.5 311.5V436.1M1688.3 186.9V311.5M1688.3 186.9V239.9M1691.1 239.9V293M1691.1 258.5V293M1693.8 224V258.5M1693.8 224V246.6M1696.6 246.6V269.2M1696.6 263.8V269.2M1699.4 258.3V263.8M1699.4 258.3V265.8M1702.2 265.8V304.8M1705 304.8V312.3M1705 336.3V365.8M1707.7 365.8V395.2M1707.7 338.4V395.2M1710.5 281.7V338.4M1710.5 281.7V354.2M1713.3 354.2V426.7M1713.3 368.4V426.7M1716.1 310V368.4M1716.1 256.1V286M1718.8 226.1V256.1M1718.8 226.1V333.7M1721.6 333.7V441.3M1721.6 282.7V441.3M1724.4 282.5V286.2M1727.2 267.3V286M1730 248.6V267.3M1732.7 216.5V224.8M1741.1 236.5V250.4M1743.8 219.2V250.3M1743.8 219.2V248.8M1746.6 248.8V332M1749.4 332V361.6M1749.4 346.3V361.6M1752.2 331V346.3M1752.2 276.4V307M1755 276.2V285.4M1757.7 285.4V294.6M1760.5 278.5V294.4M1766.1 298.5V379.4M1768.9 379.4V460.2M1768.8 361.4V460.2M1771.6 262.5V361.4M1771.6 262.4V264.8M1774.4 264.8V267.2M1777.2 270.2V342.5M1780 342.5V414.8M1780 400.2V414.8M1782.7 385.6V400.2M1782.7 270.6V361.6M1785.5 179.5V270.6M1785.5 179.5V196.4M1788.3 196.4V213.3M1788.3 237.3V288.5M1791.1 288.5V339.6M1791.1 291.2V339.6M1793.9 242.9V291.2M1793.9 242.9V318.4M1796.6 318.4V393.8M1796.6 357.1V393.8M1799.4 320.5V357.1M1799.4 274.4V296.5M1802.2 252.4V274.4M1802.2 252.4V258.7M1805 258.7V265M1805 289V336.1M1807.7 336.1V383.3M1807.7 328.3V383.3M1810.5 273.3V328.3M1810.5 273.3V294.4M1813.3 294.4V315.4M1813.3 229.3V315.4M1816.1 143.2V229.3M1816.1 143.1V144.1M1818.9 144.1V145.1M1818.9 169V195M1821.6 195V221M1824.4 249.2V293.4M1827.2 293.4V337.5M1827.2 327.9V337.5M1830 318.4V327.9M1830 318.4V321.6M1832.7 321.6V324.9M1835.5 319.2V335.8M1838.3 302.7V319.2M1838.3 236.9V278.7M1841.1 195.1V236.9M1841.1 161.3V171.1M1843.9 151.6V161.3M1843.9 151.6V175.1M1846.6 175.1V198.6M1846.6 222.6V243.8M1849.4 243.8V265M1849.4 289V313.2M1852.2 313.2V337.5M1852.2 306.9V337.5M1855 276.4V306.9M1863.3 263.9V301.2M1866.1 301.2V338.5M1866.1 321.4V338.5M1868.9 304.2V321.4M1868.9 257V280.2M1874.4 243.5V251.4M1877.2 235.6V243.5M1877.2 235.6V318.8M1880 318.8V402M1880 321.9V402M1882.7 241.9V321.9M1882.7 241.9V278.6M1885.5 278.6V315.4M1885.5 309V315.4M1888.3 302.7V309M1888.3 302.7V345.3M1891.1 345.3V387.9M1891.1 295.4V387.9M1893.9 203V295.4M1893.9 203V243.4M1896.6 243.4V283.9M1896.6 253.2V283.9M1899.4 222.6V253.2M1899.4 222.6V247.5M1902.2 247.5V272.4M1905 259.6V272.5M1907.8 259.7V305.6M1907.8 286V305.6M1910.5 222.7V286M1913.3 203V222.7M1913.3 203V289.9M1916.1 289.9V376.8M1916.1 262.9V376.8M1918.9 235.4V239.1M1924.4 235.4V243.7M1930 209.9V268.2M1932.8 151.6V209.9M1932.8 151.6V306.8M1935.5 306.8V461.9M1935.5 424.7V461.9M1938.3 326.2V424.7M1941.1 289V326.2M1941.1 289V445.5M1941.1 426V445.5M1943.9 363.1V426M1946.6 343.6V363.1M1946.6 232V319.6M1946.6 232V317M1949.4 317V402M1949.4 397.1V402M1952.2 363.2V397.1M1955 358.3V363.2M1960.5 317.4V337.9M1963.3 337.9V358.5M1963.3 296V358.5M1966.1 233.5V296M1966.1 233.5V288.1M1968.9 288.1V342.7M1968.9 283.4V342.7M1971.6 224V283.4M1971.6 189.8V200M1974.4 179.5V189.8M1974.4 179.5V230.5" fill="none" stroke="#111" stroke-width="2.25"/>
<path d="M1143.2 183.8h13.3v14.3h-13.3zM1143.2 347h13.3v14.3h-13.3zM1145 206.3h14.3v14.3h-14.3zM1147.8 400.1h14.3v14.3h-14.3zM1150.5 166h14.3v14.3h-14.3zM1153.3 245.8h14.3v14.3h-14.3zM1158.9 251h14.3v14.3h-14.3zM1158.9 461.2h14.3v14.3h-14.3zM1161.7 292.4h14.3v14.3h-14.3zM1164.4 185.9h14.3v14.3h-14.3zM1167.2 619h14.3v14.3h-14.3zM1170 441.2h14.3v14.3h-14.3zM1172.8 189.2h14.3v14.3h-14.3zM1175.5 308.2h14.3v14.3h-14.3zM1178.3 327.7h14.3v14.3h-14.3zM1181.1 354.6h14.3v14.3h-14.3zM1183.9 267.2h14.3v14.3h-14.3zM1186.7 393.2h14.3v14.3h-14.3zM1189.4 233.7h14.3v14.3h-14.3zM1192.2 179.7h14.3v14.3h-14.3zM1195 308.2h14.3v14.3h-14.3zM1197.8 268.9h14.3v14.3h-14.3zM1200.5 324.5h14.3v14.3h-14.3zM1203.3 163.9h14.3v14.3h-14.3zM1206.1 243.2h14.3v14.3h-14.3zM1208.9 318.9h14.3v14.3h-14.3zM1211.7 380.2h14.3v14.3h-14.3zM1214.4 138.2h14.3v14.3h-14.3zM1217.2 300.8h14.3v14.3h-14.3zM1220 203.2h14.3v14.3h-14.3zM1225.5 297.2h14.3v14.3h-14.3zM1228.3 125.8h14.3v14.3h-14.3zM1231.1 281.5h14.3v14.3h-14.3zM1233.9 294.5h14.3v14.3h-14.3zM1236.7 363h14.3v14.3h-14.3zM1239.4 92.9h14.3v14.3h-14.3zM1242.2 279.4h14.3v14.3h-14.3zM1245 236.8h14.3v14.3h-14.3zM1247.8 373.5h14.3v14.3h-14.3zM1250.5 398.7h14.3v14.3h-14.3zM1253.3 230h14.3v14.3h-14.3zM1253.3 277.2h14.3v14.3h-14.3zM1258.9 246.8h14.3v14.3h-14.3zM1261.7 268.9h14.3v14.3h-14.3zM1264.4 295.8h14.3v14.3h-14.3zM1267.2 226.3h14.3v14.3h-14.3zM1272.8 231.2h14.3v14.3h-14.3zM1272.8 272.7h14.3v14.3h-14.3zM1275.5 405h14.3v14.3h-14.3zM1278.3 167.8h14.3v14.3h-14.3zM1281.1 247.9h14.3v14.3h-14.3zM1283.9 492.7h14.3v14.3h-14.3zM1286.7 251.7h14.3v14.3h-14.3zM1289.4 216.4h14.3v14.3h-14.3zM1292.2 306.7h14.3v14.3h-14.3zM1295 422.6h14.3v14.3h-14.3zM1297.8 416.2h14.3v14.3h-14.3zM1300.6 298.2h14.3v14.3h-14.3zM1303.3 331.2h14.3v14.3h-14.3zM1306.1 206.9h14.3v14.3h-14.3zM1308.9 302.9h14.3v14.3h-14.3zM1311.7 313.4h14.3v14.3h-14.3zM1314.4 119.8h14.3v14.3h-14.3zM1317.2 212.2h14.3v14.3h-14.3zM1322.8 310.2h14.3v14.3h-14.3zM1325.6 124h14.3v14.3h-14.3zM1328.3 384h14.3v14.3h-14.3zM1328.3 215.3h14.3v14.3h-14.3zM1333.9 220.2h14.3v14.3h-14.3zM1336.7 201.2h14.3v14.3h-14.3zM1339.4 279.8h14.3v14.3h-14.3zM1342.2 246.8h14.3v14.3h-14.3zM1345 265.7h14.3v14.3h-14.3zM1345 357.7h14.3v14.3h-14.3zM1350.6 155.9h14.3v14.3h-14.3zM1353.3 331.2h14.3v14.3h-14.3zM1356.1 279.4h14.3v14.3h-14.3zM1358.9 100.9h14.3v14.3h-14.3zM1361.7 172.3h14.3v14.3h-14.3zM1364.4 339.9h14.3v14.3h-14.3zM1367.2 199.7h14.3v14.3h-14.3zM1370 219.5h14.3v14.3h-14.3zM1372.8 423.2h14.3v14.3h-14.3zM1375.6 474.2h14.3v14.3h-14.3zM1378.3 368.2h14.3v14.3h-14.3zM1381.1 242.7h14.3v14.3h-14.3zM1383.9 224.2h14.3v14.3h-14.3zM1386.7 288.8h14.3v14.3h-14.3zM1389.4 199.7h14.3v14.3h-14.3zM1392.2 247.9h14.3v14.3h-14.3zM1395 348.7h14.3v14.3h-14.3zM1397.8 458.7h14.3v14.3h-14.3zM1400.6 148.7h14.3v14.3h-14.3zM1403.3 347.6h14.3v14.3h-14.3zM1406.1 266.8h14.3v14.3h-14.3zM1408.9 210.5h14.3v14.3h-14.3zM1414.4 189.2h14.3v14.3h-14.3zM1417.2 479.1h14.3v14.3h-14.3zM1420 250.5h14.3v14.3h-14.3zM1422.8 306.2h14.3v14.3h-14.3zM1425.6 194.8h14.3v14.3h-14.3zM1428.3 245.8h14.3v14.3h-14.3zM1431.1 229.4h14.3v14.3h-14.3zM1433.9 199.7h14.3v14.3h-14.3zM1436.7 368.2h14.3v14.3h-14.3zM1439.5 199.7h14.3v14.3h-14.3zM1442.2 234.2h14.3v14.3h-14.3zM1447.8 279h14.3v14.3h-14.3zM1450.6 323.1h14.3v14.3h-14.3zM1453.3 240.5h14.3v14.3h-14.3zM1456.1 212.7h14.3v14.3h-14.3zM1458.9 585.1h14.3v14.3h-14.3zM1461.7 252.2h14.3v14.3h-14.3zM1467.2 397.4h14.3v14.3h-14.3zM1467.2 258.5h14.3v14.3h-14.3zM1472.8 206.9h14.3v14.3h-14.3zM1475.6 229.4h14.3v14.3h-14.3zM1478.3 385h14.3v14.3h-14.3zM1481.1 453.9h14.3v14.3h-14.3zM1486.7 290.5h14.3v14.3h-14.3zM1486.7 299.8h14.3v14.3h-14.3zM1489.5 335h14.3v14.3h-14.3zM1492.2 247.9h14.3v14.3h-14.3zM1495 290.9h14.3v14.3h-14.3zM1497.8 429.5h14.3v14.3h-14.3zM1503.3 253.8h14.3v14.3h-14.3zM1503.3 448.6h14.3v14.3h-14.3zM1506.1 92.9h14.3v14.3h-14.3zM1508.9 405.4h14.3v14.3h-14.3zM1511.7 308.2h14.3v14.3h-14.3zM1514.5 265.7h14.3v14.3h-14.3zM1517.2 231.5h14.3v14.3h-14.3zM1520 302.9h14.3v14.3h-14.3zM1522.8 243.2h14.3v14.3h-14.3zM1525.6 352.5h14.3v14.3h-14.3zM1531.1 288.8h14.3v14.3h-14.3zM1531.1 342.4h14.3v14.3h-14.3zM1533.9 398.7h14.3v14.3h-14.3zM1536.7 254.8h14.3v14.3h-14.3zM1542.2 160.3h14.3v14.3h-14.3zM1545 210.5h14.3v14.3h-14.3zM1547.8 251h14.3v14.3h-14.3zM1550.6 454h14.3v14.3h-14.3zM1556.1 300.4h14.3v14.3h-14.3zM1556.1 445.2h14.3v14.3h-14.3zM1558.9 302.9h14.3v14.3h-14.3zM1561.7 437.8h14.3v14.3h-14.3zM1564.5 189.2h14.3v14.3h-14.3zM1567.2 178.2h14.3v14.3h-14.3zM1570 290.9h14.3v14.3h-14.3zM1572.8 262.2h14.3v14.3h-14.3zM1575.6 314h14.3v14.3h-14.3zM1578.4 282.5h14.3v14.3h-14.3zM1581.1 191.7h14.3v14.3h-14.3zM1583.9 185.3h14.3v14.3h-14.3zM1589.5 231.8h14.3v14.3h-14.3zM1589.5 275.2h14.3v14.3h-14.3zM1592.2 295.8h14.3v14.3h-14.3zM1597.8 216.8h14.3v14.3h-14.3zM1597.8 270.6h14.3v14.3h-14.3zM1600.6 185.9h14.3v14.3h-14.3zM1603.4 238.4h14.3v14.3h-14.3zM1606.1 189.5h14.3v14.3h-14.3zM1608.9 264.7h14.3v14.3h-14.3zM1611.7 250.5h14.3v14.3h-14.3zM1614.5 288.8h14.3v14.3h-14.3zM1617.2 356h14.3v14.3h-14.3zM1620 172.3h14.3v14.3h-14.3zM1622.8 500.4h14.3v14.3h-14.3zM1625.6 235.3h14.3v14.3h-14.3zM1628.4 178.2h14.3v14.3h-14.3zM1631.1 240.5h14.3v14.3h-14.3zM1633.9 225.8h14.3v14.3h-14.3zM1636.7 168.5h14.3v14.3h-14.3zM1645 217.4h14.3v14.3h-14.3zM1645 480.9h14.3v14.3h-14.3zM1647.8 295.6h14.3v14.3h-14.3zM1650.6 428.5h14.3v14.3h-14.3zM1653.4 370.1h14.3v14.3h-14.3zM1656.1 214.3h14.3v14.3h-14.3zM1658.9 293.7h14.3v14.3h-14.3zM1661.7 323.1h14.3v14.3h-14.3zM1664.5 220.7h14.3v14.3h-14.3zM1667.2 273.1h14.3v14.3h-14.3zM1670 233.7h14.3v14.3h-14.3zM1672.8 331.2h14.3v14.3h-14.3zM1675.6 288.8h14.3v14.3h-14.3zM1678.4 441h14.3v14.3h-14.3zM1681.1 167.8h14.3v14.3h-14.3zM1683.9 297.9h14.3v14.3h-14.3zM1686.7 204.8h14.3v14.3h-14.3zM1689.5 274.1h14.3v14.3h-14.3zM1692.2 239.2h14.3v14.3h-14.3zM1697.8 317.2h14.3v14.3h-14.3zM1700.6 400.1h14.3v14.3h-14.3zM1703.4 262.6h14.3v14.3h-14.3zM1706.1 431.6h14.3v14.3h-14.3zM1708.9 290.9h14.3v14.3h-14.3zM1711.7 206.9h14.3v14.3h-14.3zM1714.5 446.2h14.3v14.3h-14.3zM1714.5 263.6h14.3v14.3h-14.3zM1720 290.9h14.3v14.3h-14.3zM1722.8 229.4h14.3v14.3h-14.3zM1728.4 197.5h14.3v14.3h-14.3zM1731.1 217.4h14.3v14.3h-14.3zM1736.7 255.2h14.3v14.3h-14.3zM1736.7 200h14.3v14.3h-14.3zM1742.3 366.5h14.3v14.3h-14.3zM1745 311.9h14.3v14.3h-14.3zM1745 257.2h14.3v14.3h-14.3zM1753.4 299.2h14.3v14.3h-14.3zM1753.4 259.4h14.3v14.3h-14.3zM1758.9 279.4h14.3v14.3h-14.3zM1761.7 465.1h14.3v14.3h-14.3zM1764.5 243.3h14.3v14.3h-14.3zM1767.3 272h14.3v14.3h-14.3zM1770 251h14.3v14.3h-14.3zM1772.8 419.7h14.3v14.3h-14.3zM1775.6 366.5h14.3v14.3h-14.3zM1778.4 160.3h14.3v14.3h-14.3zM1781.1 218.2h14.3v14.3h-14.3zM1783.9 344.5h14.3v14.3h-14.3zM1786.7 223.8h14.3v14.3h-14.3zM1789.5 398.7h14.3v14.3h-14.3zM1792.3 301.4h14.3v14.3h-14.3zM1795 233.2h14.3v14.3h-14.3zM1797.8 269.9h14.3v14.3h-14.3zM1800.6 388.2h14.3v14.3h-14.3zM1803.4 254.2h14.3v14.3h-14.3zM1806.1 320.2h14.3v14.3h-14.3zM1808.9 124h14.3v14.3h-14.3zM1811.7 149.8h14.3v14.3h-14.3zM1814.5 225.8h14.3v14.3h-14.3zM1817.3 230h14.3v14.3h-14.3zM1820 342.4h14.3v14.3h-14.3zM1822.8 299.2h14.3v14.3h-14.3zM1825.6 329.8h14.3v14.3h-14.3zM1828.4 340.7h14.3v14.3h-14.3zM1831.1 283.6h14.3v14.3h-14.3zM1833.9 175.9h14.3v14.3h-14.3zM1836.7 132.4h14.3v14.3h-14.3zM1839.5 203.4h14.3v14.3h-14.3zM1842.3 269.9h14.3v14.3h-14.3zM1845 342.4h14.3v14.3h-14.3zM1847.8 257.2h14.3v14.3h-14.3zM1850.6 237.4h14.3v14.3h-14.3zM1856.2 244.8h14.3v14.3h-14.3zM1858.9 343.4h14.3v14.3h-14.3zM1861.7 285.1h14.3v14.3h-14.3zM1861.7 237.8h14.3v14.3h-14.3zM1867.3 256.2h14.3v14.3h-14.3zM1870 216.4h14.3v14.3h-14.3zM1872.8 406.9h14.3v14.3h-14.3zM1875.6 222.8h14.3v14.3h-14.3zM1878.4 320.2h14.3v14.3h-14.3zM1881.2 283.6h14.3v14.3h-14.3zM1883.9 392.8h14.3v14.3h-14.3zM1886.7 183.8h14.3v14.3h-14.3zM1889.5 288.8h14.3v14.3h-14.3zM1892.3 203.4h14.3v14.3h-14.3zM1895 277.2h14.3v14.3h-14.3zM1900.6 240.5h14.3v14.3h-14.3zM1900.6 310.5h14.3v14.3h-14.3zM1906.2 183.8h14.3v14.3h-14.3zM1908.9 381.7h14.3v14.3h-14.3zM1908.9 243.8h14.3v14.3h-14.3zM1914.5 216.4h14.3v14.3h-14.3zM1920 248.3h14.3v14.3h-14.3zM1922.8 273.1h14.3v14.3h-14.3zM1925.6 132.4h14.3v14.3h-14.3zM1928.4 466.8h14.3v14.3h-14.3zM1933.9 269.9h14.3v14.3h-14.3zM1933.9 450.4h14.3v14.3h-14.3zM1939.5 324.5h14.3v14.3h-14.3zM1939.5 212.8h14.3v14.3h-14.3zM1942.3 406.9h14.3v14.3h-14.3zM1947.8 339.2h14.3v14.3h-14.3zM1950.6 315.1h14.3v14.3h-14.3zM1953.4 298.2h14.3v14.3h-14.3zM1956.2 363.4h14.3v14.3h-14.3zM1958.9 214.3h14.3v14.3h-14.3zM1961.7 347.6h14.3v14.3h-14.3zM1964.5 204.8h13.5v14.3h-13.5zM1967.3 160.3h10.7v14.3h-10.7zM1967.3 235.3h10.7v14.3h-10.7zM1967.3 251h10.7v14.3h-10.7z" fill="#000"/>
<rect x="1144.7" y="19.4" width="833.3" height="678.4" fill="none" stroke="#000" stroke-width="3.4"/>
<text x="1121.9" y="28.1" font-size="30.5" text-anchor="end">150</text>
<text x="1121.9" y="107.8" font-size="30.5" text-anchor="end">140</text>
<text x="1121.9" y="187.5" font-size="30.5" text-anchor="end">130</text>
<text x="1121.9" y="267.2" font-size="30.5" text-anchor="end">120</text>
<text x="1121.9" y="346.9" font-size="30.5" text-anchor="end">110</text>
<text x="1121.9" y="426.6" font-size="30.5" text-anchor="end">100</text>
<text x="1121.9" y="506.3" font-size="30.5" text-anchor="end">90</text>
<text x="1121.9" y="586" font-size="30.5" text-anchor="end">80</text>
<text x="1121.9" y="665.7" font-size="30.5" text-anchor="end">70</text>
<text x="1143.6" y="743" font-size="30.5" text-anchor="middle">0.0</text>
<text x="1282.5" y="743" font-size="30.5" text-anchor="middle">0.5</text>
<text x="1421.4" y="743" font-size="30.5" text-anchor="middle">1.0</text>
<text x="1560.2" y="743" font-size="30.5" text-anchor="middle">1.5</text>
<text x="1699.1" y="743" font-size="30.5" text-anchor="middle">2.0</text>
<text x="1838" y="743" font-size="30.5" text-anchor="middle">2.5</text>
<text x="1976.9" y="743" font-size="30.5" text-anchor="middle">3.0</text>
<path d="M1144.7 19.4h-13.5M1144.7 59.2h-7.5M1144.7 99.1h-13.5M1144.7 138.9h-7.5M1144.7 178.8h-13.5M1144.7 218.7h-7.5M1144.7 258.5h-13.5M1144.7 298.3h-7.5M1144.7 338.2h-13.5M1144.7 378h-7.5M1144.7 417.9h-13.5M1144.7 457.7h-7.5M1144.7 497.6h-13.5M1144.7 537.4h-7.5M1144.7 577.3h-13.5M1144.7 617.1h-7.5M1144.7 657h-13.5M1144.7 696.8h-7.5M1144.7 697.8v14.5M1214.1 697.8v8.5M1283.6 697.8v14.5M1353 697.8v8.5M1422.5 697.8v14.5M1491.9 697.8v8.5M1561.3 697.8v14.5M1630.8 697.8v8.5M1700.2 697.8v14.5M1769.7 697.8v8.5M1839.1 697.8v14.5M1908.6 697.8v8.5M1978 697.8v14.5" fill="none" stroke="#000" stroke-width="2.7"/>
<text x="1564.7" y="802.2" font-size="43.5" text-anchor="middle" textLength="138.5" lengthAdjust="spacingAndGlyphs">Time(s)</text>
<text transform="translate(1052.7 352.8) rotate(-90)" font-size="43" text-anchor="middle" textLength="231" lengthAdjust="spacingAndGlyphs">Velocity(m/s)</text>
<rect x="1622.5" y="39.5" width="274.5" height="51.3" fill="#fff" stroke="#111" stroke-width="1.6"/>
<path d="M1653.7 71H1676.5M1701.3 71H1724.2" stroke="#111" stroke-width="1.6" fill="none"/>
<rect x="1680.7" y="63.4" width="14.5" height="14.5" fill="#000"/>
<text x="1739.3" y="81.3" font-size="35.5" textLength="142.5" lengthAdjust="spacingAndGlyphs">z=15mm</text>
<text x="1555" y="881.8" font-size="55" text-anchor="middle" font-family='"Liberation Serif", "Times New Roman", serif'>(b)</text>
</g>
</svg>
</body></html>
